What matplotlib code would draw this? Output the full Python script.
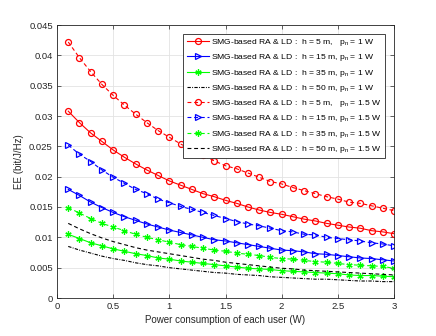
import matplotlib
matplotlib.use("Agg")
import matplotlib.pyplot as plt
import numpy as np

plt.rcParams['font.family'] = ['Liberation Sans', 'DejaVu Sans']
plt.rcParams['mathtext.fontset'] = 'custom'
plt.rcParams['mathtext.rm'] = 'Liberation Sans'
plt.rcParams['mathtext.it'] = 'Liberation Sans:italic'

power = [0.1, 0.2, 0.3, 0.4, 0.5, 0.6, 0.7, 0.8, 0.9, 1.0,
         1.1, 1.2, 1.3, 1.4, 1.5, 1.6, 1.7, 1.8, 1.9, 2.0,
         2.1, 2.2, 2.3, 2.4, 2.5, 2.6, 2.7, 2.8, 2.9, 3.0]

ee_h5_p1 = [0.0308, 0.0289, 0.0272, 0.0258, 0.0244, 0.0232, 0.0221, 0.0211, 0.0202, 0.0193,
            0.0186, 0.0179, 0.0172, 0.0167, 0.0161, 0.0156, 0.0150, 0.0145, 0.0141, 0.0138,
            0.0134, 0.0130, 0.0127, 0.0123, 0.0120, 0.0117, 0.0115, 0.0111, 0.0109, 0.0106]
ee_h15_p1 = [0.0179, 0.0169, 0.0158, 0.0149, 0.0141, 0.0134, 0.0128, 0.0122, 0.0117, 0.0112,
             0.0108, 0.0104, 0.0100, 0.0096, 0.0094, 0.0091, 0.0088, 0.0085, 0.0082, 0.0079,
             0.0078, 0.0076, 0.0073, 0.0072, 0.0070, 0.0068, 0.0066, 0.0065, 0.0063, 0.0061]
ee_h35_p1 = [0.0105, 0.0098, 0.0091, 0.0086, 0.0081, 0.0077, 0.0073, 0.0070, 0.0066, 0.0064,
             0.0061, 0.0059, 0.0057, 0.0055, 0.0053, 0.0051, 0.0049, 0.0048, 0.0047, 0.0045,
             0.0044, 0.0043, 0.0042, 0.0041, 0.0040, 0.0038, 0.0037, 0.0037, 0.0036, 0.0035]
ee_h50_p1 = [0.0085, 0.0079, 0.0074, 0.0069, 0.0065, 0.0062, 0.0058, 0.0055, 0.0053, 0.0050,
             0.0048, 0.0046, 0.0044, 0.0042, 0.0041, 0.0039, 0.0038, 0.0037, 0.0035, 0.0034,
             0.0033, 0.0032, 0.0031, 0.0031, 0.0030, 0.0029, 0.0028, 0.0028, 0.0027, 0.0027]
ee_h5_p15 = [0.0422, 0.0396, 0.0373, 0.0352, 0.0334, 0.0318, 0.0303, 0.0289, 0.0276, 0.0265,
             0.0254, 0.0244, 0.0235, 0.0226, 0.0218, 0.0213, 0.0206, 0.0199, 0.0192, 0.0188,
             0.0182, 0.0177, 0.0172, 0.0167, 0.0163, 0.0158, 0.0156, 0.0152, 0.0148, 0.0144]
ee_h15_p15 = [0.0252, 0.0237, 0.0225, 0.0211, 0.0199, 0.0189, 0.0179, 0.0172, 0.0163, 0.0157,
              0.0151, 0.0146, 0.0141, 0.0136, 0.0131, 0.0126, 0.0122, 0.0119, 0.0115, 0.0111,
              0.0109, 0.0105, 0.0104, 0.0100, 0.0098, 0.0096, 0.0094, 0.0091, 0.0089, 0.0086]
ee_h35_p15 = [0.0149, 0.0140, 0.0131, 0.0123, 0.0117, 0.0111, 0.0105, 0.0100, 0.0096, 0.0092,
              0.0088, 0.0085, 0.0082, 0.0079, 0.0077, 0.0074, 0.0072, 0.0070, 0.0067, 0.0065,
              0.0064, 0.0062, 0.0060, 0.0059, 0.0057, 0.0055, 0.0054, 0.0053, 0.0052, 0.0049]
ee_h50_p15 = [0.0123, 0.0114, 0.0106, 0.0099, 0.0093, 0.0088, 0.0083, 0.0079, 0.0076, 0.0073,
              0.0070, 0.0067, 0.0064, 0.0062, 0.0059, 0.0057, 0.0055, 0.0053, 0.0051, 0.0049,
              0.0048, 0.0046, 0.0045, 0.0044, 0.0043, 0.0042, 0.0041, 0.0040, 0.0039, 0.0038]

labels = [
    'SMG-based RA & LD :  h = 5 m,   p$_\\mathregular{n}$ = 1 W',
    'SMG-based RA & LD :  h = 15 m, p$_\\mathregular{n}$ = 1 W',
    'SMG-based RA & LD :  h = 35 m, p$_\\mathregular{n}$ = 1 W',
    'SMG-based RA & LD :  h = 50 m, p$_\\mathregular{n}$ = 1 W',
    'SMG-based RA & LD :  h = 5 m,   p$_\\mathregular{n}$ = 1.5 W',
    'SMG-based RA & LD :  h = 15 m, p$_\\mathregular{n}$ = 1.5 W',
    'SMG-based RA & LD :  h = 35 m, p$_\\mathregular{n}$ = 1.5 W',
    'SMG-based RA & LD :  h = 50 m, p$_\\mathregular{n}$ = 1.5 W',
]
xticks = [0, 0.5, 1, 1.5, 2, 2.5, 3]
xticklabels = ['0', '0.5', '1', '1.5', '2', '2.5', '3']
yticks = [0, 0.005, 0.01, 0.015, 0.02, 0.025, 0.03, 0.035, 0.04, 0.045]
yticklabels = ['0', '0.005', '0.01', '0.015', '0.02', '0.025', '0.03', '0.035', '0.04', '0.045']

RED, BLUE, GREEN, BLACK = '#ff0000', '#0000ff', '#00ff00', '#000000'
ast = (6, 2, 0)

fig = plt.figure(figsize=(4.36, 3.36), dpi=100)
ax = fig.add_axes([57/436, 38/336, 337/436, 273/336])

ms = 4.3
lw = 0.8
series = [
    (ee_h5_p1, RED, '-', 'o', ms),
    (ee_h15_p1, BLUE, '-', '>', ms),
    (ee_h35_p1, GREEN, '-', ast, 4.5),
    (ee_h50_p1, BLACK, (0, (3, 1.2, 0.8, 1.2)), None, ms),
    (ee_h5_p15, RED, (0, (3.5, 2.5)), 'o', ms),
    (ee_h15_p15, BLUE, (0, (3.5, 2.5)), '>', ms),
    (ee_h35_p15, GREEN, (0, (3.5, 2.5)), ast, 4.5),
    (ee_h50_p15, BLACK, (0, (3.5, 2.5)), None, ms),
]
for (vals, col, ls, mk, m), lab in zip(series, labels):
    ax.plot(power, vals, color=col, linestyle=ls, lw=lw, marker=mk,
            markersize=m, markerfacecolor='none', markeredgecolor=col,
            markeredgewidth=0.9, label=lab)

ax.set_xlim(0, 3)
ax.set_ylim(0, 0.045)
ax.set_xticks(xticks)
ax.set_xticklabels(xticklabels)
ax.set_yticks(yticks)
ax.set_yticklabels(yticklabels)
ax.grid(True, color='#e3e3e3', lw=0.6)
ax.set_axisbelow(True)
ax.tick_params(direction='in', length=3, width=0.5, colors='#262626',
               labelsize=6.8, top=True, right=True, pad=3)
for s in ax.spines.values():
    s.set_color('#262626')
    s.set_linewidth(0.6)
ax.set_xlabel('Power consumption of each user (W)', fontsize=7, color='#262626', labelpad=3)
ax.set_ylabel('EE (bit/J/Hz)', fontsize=7, color='#262626', labelpad=4)

leg = ax.legend(loc='upper right', bbox_to_anchor=(0.972, 0.968), fontsize=6.1,
                frameon=True, fancybox=False, framealpha=1, edgecolor='#262626',
                handlelength=2.6, handletextpad=0.25, labelspacing=0.5,
                borderpad=0.4, borderaxespad=0)
leg.get_frame().set_linewidth(0.6)

fig.savefig('out.png', dpi=100)
